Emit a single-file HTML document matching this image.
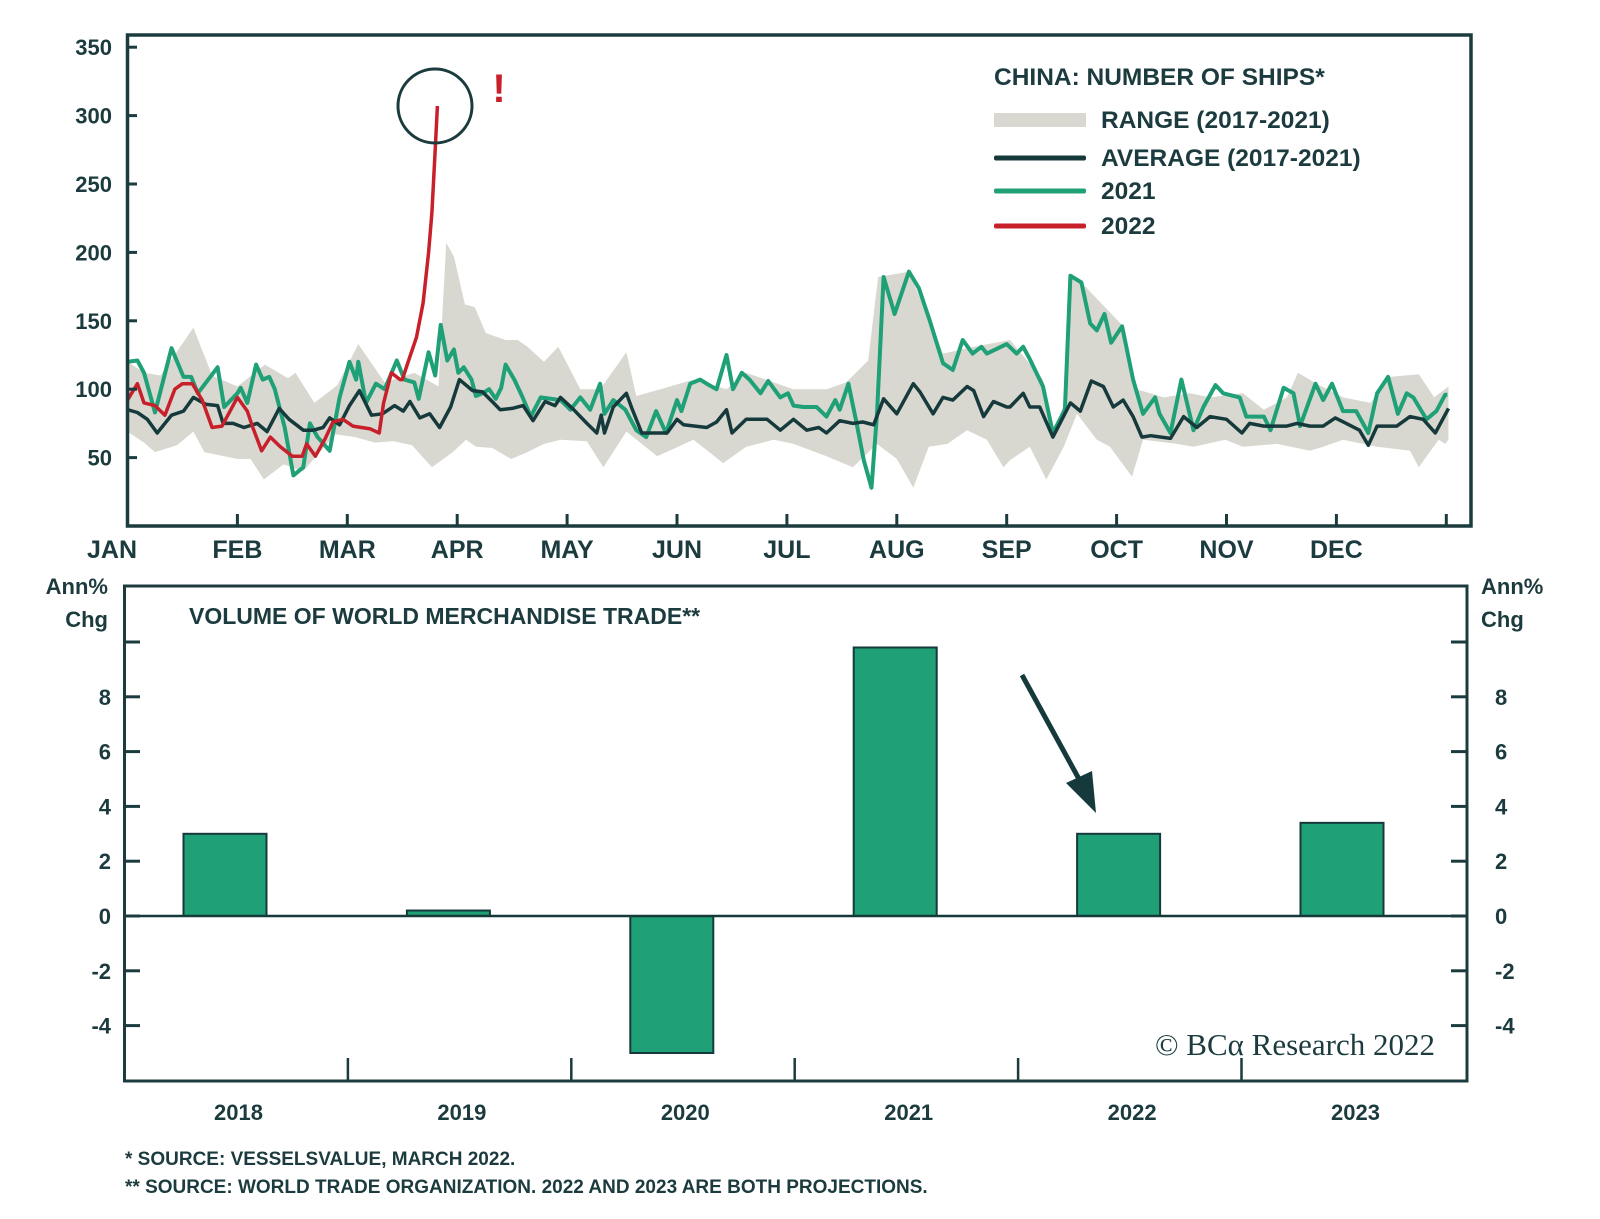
<!DOCTYPE html>
<html><head><meta charset="utf-8"><style>
html,body{margin:0;padding:0;background:#fff;}
svg{display:block;font-family:"Liberation Sans",sans-serif;}
</style></head><body>
<svg id="c" width="1600" height="1219" viewBox="0 0 1600 1219" xmlns="http://www.w3.org/2000/svg">
<g id="topPanel"></g>
<g id="botPanel"></g>
</svg>
<script>
// ---------- top chart data (t = month index 0..12) ----------
const monthLabels=["JAN","FEB","MAR","APR","MAY","JUN","JUL","AUG","SEP","OCT","NOV","DEC"];
const yTicksTop=[50,100,150,200,250,300,350];
const greenT=[0,0.09,0.15,0.25,0.40,0.51,0.58,0.64,0.82,0.88,1.0,1.03,1.09,1.17,1.23,1.29,1.34,1.43,1.51,1.6,1.66,1.73,1.84,1.93,2.02,2.08,2.10,2.17,2.26,2.34,2.45,2.52,2.61,2.65,2.74,2.80,2.85,2.91,2.97,3.01,3.06,3.13,3.17,3.23,3.29,3.35,3.40,3.44,3.52,3.59,3.67,3.76,3.94,4.03,4.12,4.21,4.30,4.34,4.42,4.53,4.63,4.72,4.81,4.90,5.0,5.04,5.12,5.21,5.27,5.36,5.45,5.51,5.59,5.66,5.76,5.83,5.94,6.01,6.06,6.15,6.27,6.36,6.44,6.48,6.56,6.63,6.70,6.77,6.82,6.88,6.98,7.11,7.20,7.30,7.42,7.51,7.60,7.69,7.77,7.82,8.0,8.09,8.15,8.21,8.33,8.42,8.53,8.58,8.68,8.76,8.82,8.89,8.95,9.05,9.15,9.24,9.35,9.39,9.49,9.59,9.70,9.79,9.90,9.97,10.12,10.18,10.34,10.40,10.52,10.61,10.67,10.81,10.88,10.96,11.06,11.18,11.29,11.37,11.47,11.56,11.64,11.70,11.82,11.91,11.99,12.01];
const greenV=[120,121,112,83,130,109,109,97,116,87,97,101,90,118,107,109,100,72,37,43,75,65,55,94,120,107,120,90,104,100,121,107,105,93,127,110,147,121,129,112,116,107,95,97,100,93,101,118,107,95,80,94,92,85,94,85,104,82,92,85,70,65,84,68,92,84,104,107,104,100,125,100,112,107,97,106,94,97,88,87,87,80,92,85,104,77,48,28,82,182,155,186,174,150,119,114,136,126,131,126,133,126,131,122,102,68,85,183,178,148,143,155,134,146,107,82,94,82,68,107,70,87,103,97,94,80,80,70,101,97,73,104,92,104,84,84,68,97,109,82,97,94,78,84,96,96];
const avgT=[0,0.09,0.18,0.27,0.40,0.51,0.60,0.71,0.82,0.87,0.96,1.06,1.18,1.27,1.38,1.47,1.60,1.69,1.78,1.84,1.93,2.02,2.11,2.22,2.32,2.43,2.51,2.57,2.66,2.75,2.84,2.94,3.02,3.14,3.23,3.33,3.39,3.50,3.60,3.69,3.80,3.89,3.94,4.06,4.18,4.27,4.31,4.34,4.42,4.54,4.59,4.68,4.82,4.91,5.0,5.06,5.27,5.36,5.45,5.50,5.63,5.82,5.94,6.06,6.18,6.29,6.36,6.48,6.60,6.69,6.79,6.88,7.00,7.15,7.21,7.33,7.42,7.51,7.64,7.70,7.79,7.88,8.0,8.03,8.15,8.21,8.30,8.42,8.58,8.67,8.77,8.88,8.97,9.06,9.15,9.23,9.31,9.49,9.61,9.73,9.85,10.0,10.14,10.21,10.34,10.46,10.55,10.64,10.76,10.88,10.99,11.09,11.21,11.29,11.37,11.55,11.67,11.79,11.90,12.02];
const avgV=[85,83,78,68,81,84,94,89,88,75,75,72,75,69,86,78,70,70,72,79,74,88,99,81,82,88,84,91,79,82,72,87,107,99,98,90,85,86,88,77,91,88,94,85,75,68,81,68,87,97,86,68,68,68,78,74,72,76,85,68,78,78,70,78,70,72,68,77,75,76,74,93,82,104,98,82,94,92,102,99,80,91,87,87,97,87,87,65,90,84,106,102,87,92,80,65,66,64,80,72,80,78,68,75,73,73,73,75,73,73,79,75,70,59,73,73,80,78,68,86];
const redT=[0,0.09,0.15,0.25,0.34,0.43,0.50,0.59,0.68,0.77,0.86,1.0,1.09,1.14,1.22,1.30,1.39,1.50,1.59,1.63,1.71,1.80,1.87,1.96,2.05,2.21,2.29,2.33,2.40,2.48,2.50,2.55,2.63,2.69,2.74,2.77,2.80,2.82];
const redV=[92,104,90,88,81,100,104,104,92,72,73,94,84,72,55,65,58,51,51,60,51,64,76,78,73,71,68,90,112,107,107,119,138,163,200,229,275,307];
const rangeUpT=[0,0.15,0.30,0.6,0.77,1.0,1.25,1.46,1.53,1.70,1.91,2.1,2.34,2.61,2.83,2.9,2.97,3.07,3.16,3.26,3.44,3.55,3.64,3.79,3.92,4.12,4.30,4.54,4.63,4.85,5.15,5.45,5.63,6.06,6.36,6.54,6.74,6.83,7.11,7.42,7.70,8.03,8.33,8.42,8.55,8.58,8.68,9.06,9.18,9.43,9.67,9.85,10.15,10.34,10.55,10.65,10.82,11.06,11.31,11.49,11.75,11.89,12.02];
const rangeUpV=[120,112,110,145,110,102,118,108,112,90,103,133,105,112,102,207,197,162,160,141,136,136,131,120,131,100,100,127,95,100,107,100,112,100,100,105,121,182,186,126,131,136,107,68,95,183,178,146,100,94,97,94,97,85,94,112,104,94,90,109,111,94,102];
const rangeLoT=[12.02,11.99,11.93,11.75,11.67,11.37,11.06,10.88,10.76,10.46,10.15,9.99,9.70,9.55,9.24,9.14,8.94,8.82,8.64,8.52,8.36,8.21,8.03,7.97,7.82,7.64,7.46,7.29,7.15,7.00,6.82,6.60,6.36,6.06,5.88,5.63,5.42,5.15,4.82,4.54,4.33,4.18,3.94,3.79,3.64,3.49,3.32,3.17,3.08,2.96,2.77,2.59,2.42,2.25,2.07,1.89,1.6,1.42,1.24,1.12,1.0,0.88,0.70,0.6,0.45,0.25,0.15,0];
const rangeLoV=[63,60,63,43,55,58,63,58,55,60,58,63,58,60,63,36,58,63,82,58,34,58,48,43,63,70,60,58,28,49,60,43,51,60,63,58,46,63,51,69,43,62,63,60,54,49,57,58,63,54,43,59,62,61,65,67,40,45,34,49,49,51,54,69,59,54,61,69];
// ---------- bottom chart data ----------
const years=["2018","2019","2020","2021","2022","2023"];
const tradeV=[3.0,0.2,-5.0,9.8,3.0,3.4];
const yTicksBot=[-4,-2,0,2,4,6,8];

const NS="http://www.w3.org/2000/svg";
function mk(tag,attrs,parent,text){const e=document.createElementNS(NS,tag);for(const k in attrs)e.setAttribute(k,attrs[k]);if(text!==undefined)e.textContent=text;parent.appendChild(e);return e;}
const INK="#1c3b3e", GREEN="#1fa077", RED="#c8202a", BAND="#d8d8d1";
const topG=document.getElementById('topPanel'), botG=document.getElementById('botPanel');

const X0=127.5, MW=109.9, YB=526, YS=1.368;
const xT=t=>X0+t*MW, yT=v=>YB-v*YS;
function pts(T,V){const n=Math.min(T.length,V.length);const out=[];for(let i=0;i<n;i++)out.push(xT(T[i]).toFixed(1)+','+yT(V[i]).toFixed(1));return out.join(' ');}

let band=mk('polygon',{points:pts(rangeUpT,rangeUpV)+' '+pts(rangeLoT,rangeLoV),fill:BAND},topG);


let gl=mk('polyline',{points:pts(greenT,greenV),fill:'none',stroke:GREEN,'stroke-width':4,'stroke-linejoin':'round'},topG);


let al=mk('polyline',{points:pts(avgT,avgV),fill:'none',stroke:'#163a3c','stroke-width':3.5,'stroke-linejoin':'round'},topG);


let rl=mk('polyline',{points:pts(redT,redV),fill:'none',stroke:RED,'stroke-width':3.5,'stroke-linejoin':'round'},topG);



let fr=mk('rect',{x:127.5,y:35,width:1343.5,height:491,fill:'none',stroke:INK,'stroke-width':3.5},topG);


yTicksTop.forEach(v=>{
  let tk=mk('line',{x1:127.5,x2:137,y1:yT(v),y2:yT(v),stroke:INK,'stroke-width':3},topG);
  
  
  let lb=mk('text',{x:112,y:yT(v)+8,'text-anchor':'end','font-size':22,'font-weight':'bold',fill:INK},topG,String(v));
  
  
});
for(let m=0;m<=12;m++){
  let tk=mk('line',{x1:xT(m),x2:xT(m),y1:526,y2:514,stroke:INK,'stroke-width':3},topG);
  
  
}
monthLabels.forEach((s,m)=>{
  const cx=m===0?112:xT(m);
  let lb=mk('text',{x:cx,y:558,'text-anchor':'middle','font-size':25,'font-weight':'bold',fill:INK},topG,s);
  
  
});
let circ=mk('circle',{cx:435,cy:106,r:37,fill:'none',stroke:INK,'stroke-width':3},topG);


let ex=mk('text',{x:499,y:102,'text-anchor':'middle','font-size':40,'font-weight':'bold',fill:RED},topG,'!');



let lt=mk('text',{x:994,y:85,'font-size':24.5,'font-weight':'bold',fill:INK},topG,'CHINA: NUMBER OF SHIPS*');


const legItems=[['RANGE (2017-2021)',BAND,120,14],['AVERAGE (2017-2021)','#163a3c',158,5],['2021',GREEN,191,5],['2022',RED,226,5]];
legItems.forEach(it=>{
  let sw=mk('rect',{x:994,y:it[2]-it[3]/2,width:92,height:it[3],fill:it[1],rx:it[3]>10?0:2},topG);
  
  
  let tx=mk('text',{x:1101,y:it[2]+8,'font-size':24.5,'font-weight':'bold',fill:INK},topG,it[0]);
  
  
});

const BX0=124.5, CW=223.4, Y0=916, US=27.4;
const yB=v=>Y0-v*US;
let bf=mk('rect',{x:124.5,y:586,width:1342.5,height:495,fill:'none',stroke:INK,'stroke-width':3},botG);


tradeV.forEach((v,i)=>{
  const x=BX0+i*CW+59, yTop=Math.min(yB(v),Y0), h=Math.abs(yB(v)-Y0);
  let b=mk('rect',{x:x,y:yTop,width:83,height:h,fill:GREEN,stroke:'#163a3c','stroke-width':2},botG);
  
  
  let lb=mk('text',{x:BX0+i*CW+114,y:1120,'text-anchor':'middle','font-size':22,'font-weight':'bold',fill:INK},botG,years[i]);
  
  
  if(i>0){
    let d=mk('line',{x1:BX0+i*CW,x2:BX0+i*CW,y1:1081,y2:1058,stroke:INK,'stroke-width':2.5},botG);
    
    
  }
});
let zl=mk('line',{x1:124.5,x2:1467,y1:Y0,y2:Y0,stroke:'#163a3c','stroke-width':2.5},botG);


[...yTicksBot,10].forEach(v=>{
  let a=mk('line',{x1:124.5,x2:140,y1:yB(v),y2:yB(v),stroke:INK,'stroke-width':3},botG);
  
  
  let b=mk('line',{x1:1451,x2:1467,y1:yB(v),y2:yB(v),stroke:INK,'stroke-width':3},botG);
  
  
});
yTicksBot.forEach(v=>{
  let a=mk('text',{x:111,y:yB(v)+8,'text-anchor':'end','font-size':22,'font-weight':'bold',fill:INK},botG,String(v));
  
  
  let b=mk('text',{x:1495,y:yB(v)+8,'text-anchor':'start','font-size':22,'font-weight':'bold',fill:INK},botG,String(v));
  
  
});
</script>
<script>
(function(){
const NS="http://www.w3.org/2000/svg", INK="#1c3b3e";
const bot=document.getElementById('botPanel');
function t(x,y,s,size,anchor,weight,name,fam){const e=document.createElementNS(NS,'text');e.setAttribute('x',x);e.setAttribute('y',y);e.setAttribute('font-size',size);e.setAttribute('text-anchor',anchor);e.setAttribute('font-weight',weight);e.setAttribute('fill',INK);if(fam)e.setAttribute('font-family',fam);e.textContent=s;bot.appendChild(e);return e;}
t(108,594,'Ann%',22,'end','bold','left-axis-unit');
t(108,627,'Chg',22,'end','bold','left-axis-unit-2');
t(1481,594,'Ann%',22,'start','bold','right-axis-unit');
t(1481,627,'Chg',22,'start','bold','right-axis-unit-2');
t(189,624,'VOLUME OF WORLD MERCHANDISE TRADE**',23,'start','bold','panel-title');
t(1435,1055,'© BCα Research 2022',31,'end','normal','copyright','"Liberation Serif",serif');
t(125,1165,'*  SOURCE: VESSELSVALUE, MARCH 2022.',19,'start','bold','footnote-1');
t(125,1193,'** SOURCE: WORLD TRADE ORGANIZATION. 2022 AND 2023 ARE BOTH PROJECTIONS.',19,'start','bold','footnote-2');
const ar=document.createElementNS(NS,'line');
ar.setAttribute('x1',1022);ar.setAttribute('y1',675);ar.setAttribute('x2',1085);ar.setAttribute('y2',790);
ar.setAttribute('stroke','#163a3c');ar.setAttribute('stroke-width',5);


bot.appendChild(ar);
const ah=document.createElementNS(NS,'polygon');
ah.setAttribute('points','1096,813 1066,783 1092,771');
ah.setAttribute('fill','#163a3c');


bot.appendChild(ah);
})();
</script>
</body></html>
